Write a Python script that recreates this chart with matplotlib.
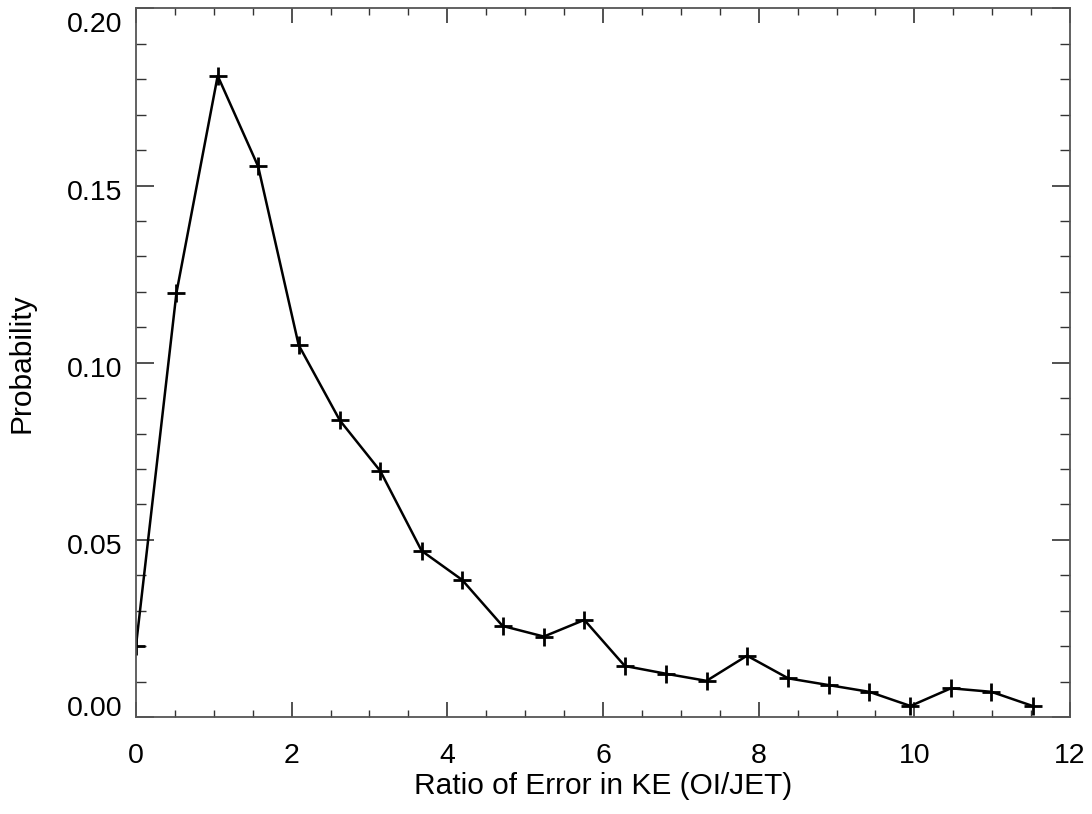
import numpy as np
import matplotlib
matplotlib.use("Agg")
import matplotlib.pyplot as plt
import matplotlib.transforms as mtransforms
from matplotlib.ticker import MultipleLocator, FormatStrFormatter

# ratio bins (OI/JET) and probability
ratio = [0.00, 0.52, 1.05, 1.57, 2.09, 2.62, 3.14, 3.67, 4.19, 4.71, 5.24, 5.76,
         6.28, 6.81, 7.33, 7.85, 8.38, 8.90, 9.42, 9.95, 10.47, 10.99, 11.52]
prob = [0.0200, 0.1197, 0.1810, 0.1554, 0.1050, 0.0837, 0.0694, 0.0469, 0.0387,
        0.0257, 0.0227, 0.0274, 0.0144, 0.0122, 0.0102, 0.0173, 0.0109, 0.0090,
        0.0071, 0.0031, 0.0081, 0.0071, 0.0031]

xlabel = 'Ratio of Error in KE (OI/JET)'
ylabel = 'Probability'
yticks = [0.00, 0.05, 0.10, 0.15, 0.20]

plt.rcParams['font.family'] = ['Liberation Sans', 'DejaVu Sans']

fig = plt.figure(figsize=(10.92, 8.14), dpi=100)
ax = fig.add_axes([0.1245, 0.1192, 0.8554, 0.8704])

ax.plot(ratio, prob, color='black', lw=1.8, marker='+', ms=13, mew=2.0)

ax.set_xlim(0, 12)
ax.set_ylim(0, 0.20)
ax.xaxis.set_major_locator(MultipleLocator(2))
ax.xaxis.set_minor_locator(MultipleLocator(0.5))
ax.set_yticks(yticks)
ax.yaxis.set_minor_locator(MultipleLocator(0.01))
ax.yaxis.set_major_formatter(FormatStrFormatter('%.2f'))

ax.tick_params(axis='both', which='both', direction='in', top=True, right=True,
               color='#333333', labelsize=20.5)
ax.tick_params(axis='x', which='major', length=11, width=1.2, pad=19)
ax.tick_params(axis='x', which='minor', length=5.3, width=1.0)
ax.tick_params(axis='y', which='major', length=13, width=1.2, pad=10)
ax.tick_params(axis='y', which='minor', length=7, width=1.0)
for s in ax.spines.values():
    s.set_color('#555555')
    s.set_linewidth(1.3)

ax.set_xlabel(xlabel, fontsize=21.5, labelpad=2)
ax.set_ylabel(ylabel, fontsize=21.5, labelpad=22)

# IDL-style: end labels kept inside the axis range, others sit a bit low
fig.canvas.draw()
for tick in ax.yaxis.get_major_ticks():
    lab = tick.label1
    v = tick.get_loc()
    if abs(v - yticks[0]) < 1e-9:
        lab.set_va('bottom')
        dy = -5
    elif abs(v - yticks[-1]) < 1e-9:
        lab.set_va('top')
        dy = -3.5
    else:
        dy = -4.5
    lab.set_transform(lab.get_transform() +
                      mtransforms.ScaledTranslation(0, dy / 100, fig.dpi_scale_trans))

plt.savefig('out.png', dpi=100)
